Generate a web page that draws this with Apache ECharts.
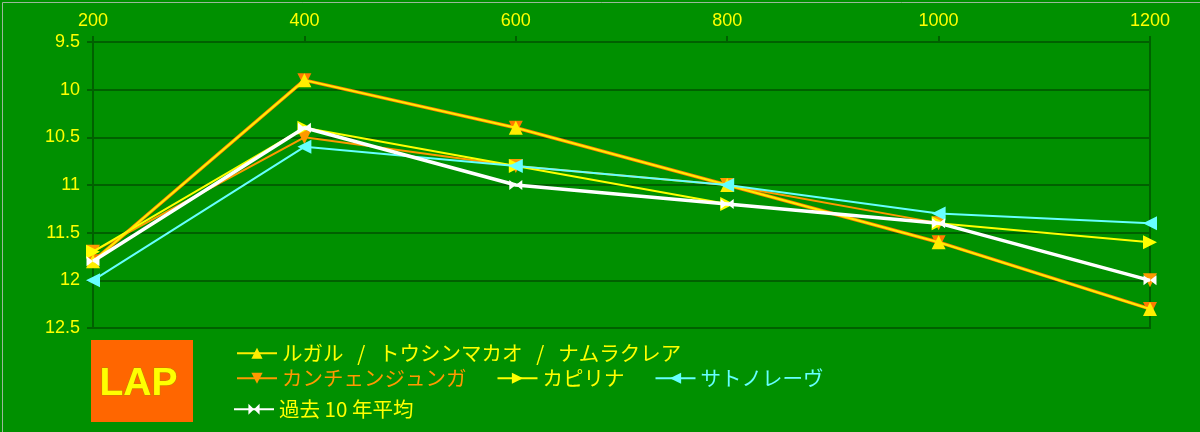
<!DOCTYPE html>
<html><head><meta charset="utf-8">
<script src="https://cdn.jsdelivr.net/npm/echarts@6/dist/echarts.min.js"></script>
<style>html,body{margin:0;padding:0;background:#009000;}#c{width:1200px;height:432px;}</style>
</head><body><div id="c"></div>
<script>
const categories = ['200','400','600','800','1000','1200'];
const yTicks = [9.5, 10, 10.5, 11, 11.5, 12, 12.5];
const nameA = 'ルガル   /   トウシンマカオ   /   ナムラクレア';
const nameB = 'カンチェンジュンガ';
const nameC = 'カピリナ';
const nameD = 'サトノレーヴ';
const nameE = '過去 10 年平均';
const lapA = [11.8, 9.9, 10.4, 11.0, 11.6, 12.3];
const lapB = [11.7, 10.5, 10.8, 11.0, 11.4, 12.0];
const lapC = [11.7, 10.4, 10.8, 11.2, 11.4, 11.6];
const lapD = [12.0, 10.6, 10.8, 11.0, 11.3, 11.4];
const lapE = [11.8, 10.4, 11.0, 11.2, 11.4, 12.0];

const YEL = '#ffff00', ORA = '#ff9900', CYA = '#66ffff', WHT = '#ffffff';
const FONT = '"Noto Sans CJK JP", "Noto Sans", sans-serif';
const NUMFONT = '"Liberation Sans", Arial, sans-serif';
const bowtie = 'path://M0,0L5,5L0,10Z M10,0L5,5L10,10Z';

const chart = echarts.init(document.getElementById('c'), null, {renderer:'canvas'});
function ser(name, data, color, symbol, rot, width, z){
  return {name, type:'line', data, z, symbol, symbolSize: 14, symbolRotate: rot,
    lineStyle:{color, width}, itemStyle:{color}, emphasis:{disabled:true}};
}
const legendBase = {orient:'horizontal', itemWidth:40, itemHeight:14, itemGap:30,
  textStyle:{fontFamily:FONT, fontSize:20.5}, selectedMode:false};
chart.setOption({
  animation:false,
  backgroundColor:'#009000',
  textStyle:{fontFamily:FONT},
  grid:{left:93, right:50, top:42, bottom:104, show:true, borderColor:'#006000', borderWidth:2, backgroundColor:'transparent'},
  xAxis:{type:'category', data:categories, position:'top', boundaryGap:false,
    axisLine:{lineStyle:{color:'#006000', width:2}},
    axisTick:{show:true, length:6, lineStyle:{color:'#006000', width:2}},
    axisLabel:{color:YEL, fontSize:18, fontFamily:NUMFONT, margin:12},
    splitLine:{show:false}},
  yAxis:{type:'value', inverse:true, min:yTicks[0], max:yTicks[yTicks.length-1], interval:0.5,
    axisLine:{show:true, lineStyle:{color:'#006000', width:2}},
    axisTick:{show:true, length:6, lineStyle:{color:'#006000', width:2}},
    axisLabel:{color:YEL, fontSize:18, fontFamily:NUMFONT, margin:13},
    splitLine:{show:true, lineStyle:{color:'#006000', width:2}}},
  legend:[
    Object.assign({}, legendBase, {left:231, top:338, data:[{name:nameA, textStyle:{color:YEL}}]}),
    Object.assign({}, legendBase, {left:231, top:363, data:[
      {name:nameB, textStyle:{color:ORA}}, {name:nameC, textStyle:{color:YEL}}, {name:nameD, textStyle:{color:CYA}}]}),
    Object.assign({}, legendBase, {left:228, top:394, data:[{name:nameE, textStyle:{color:YEL}}]})
  ],
  graphic:[
    {type:'rect', left:91, top:340, shape:{width:102, height:82}, style:{fill:'#ff6600'}},
    {type:'text', left:99, top:364, style:{text:'LAP', fill:YEL, stroke:'#c08000', lineWidth:1,
      font:'bold 39px "Liberation Sans", Arial, sans-serif'}},
    {type:'rect', left:0, top:0, shape:{width:1199, height:431}, style:{fill:'none', stroke:'#9ab89a', lineWidth:1}}
  ],
  series:[
    ser('_dupA', lapA, '#ff7a00', 'triangle', 180, 3.5, 1),
    ser(nameB, lapB, ORA, 'triangle', 180, 2, 2),
    ser(nameC, lapC, YEL, 'triangle', -90, 2, 3),
    ser(nameA, lapA, '#ffee00', 'triangle', 0, 2, 4),
    ser(nameD, lapD, CYA, 'triangle', 90, 2, 5),
    Object.assign(ser(nameE, lapE, WHT, bowtie, 0, 3.5, 6), {symbolSize:[13,10]})
  ]
});
</script></body></html>
